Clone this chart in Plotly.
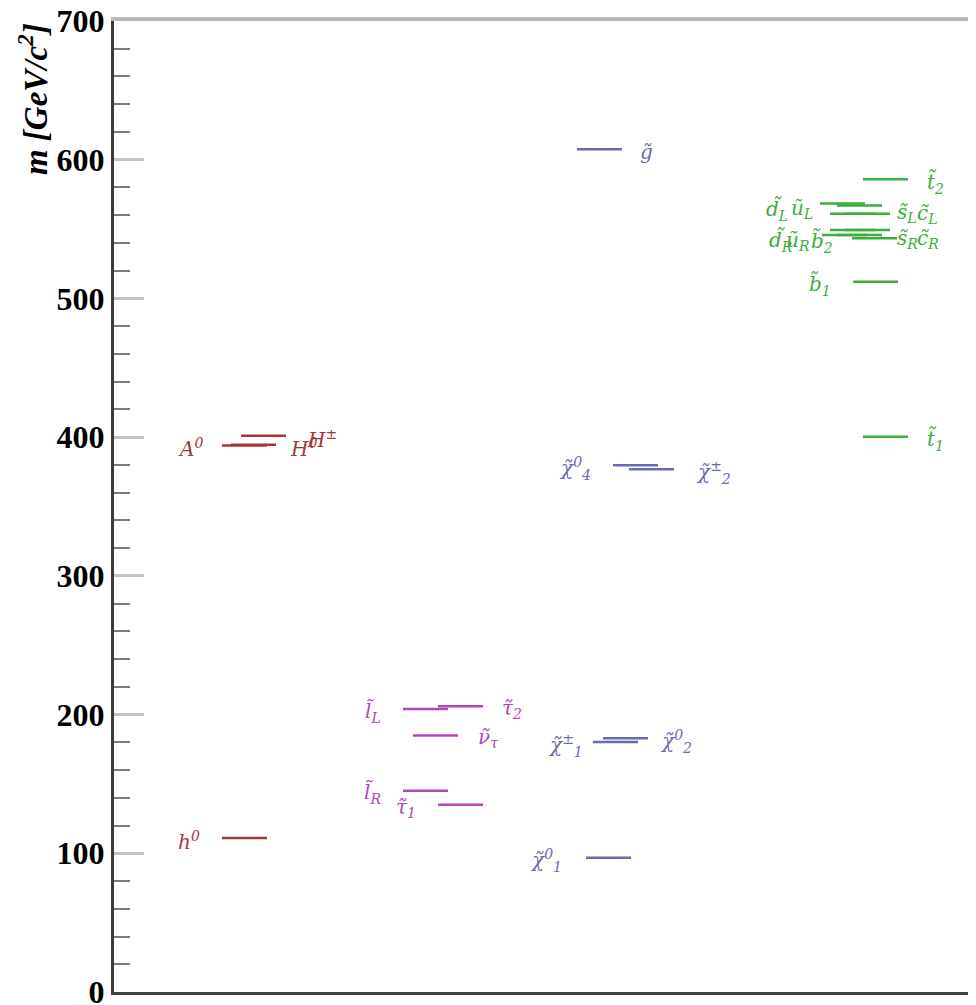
import plotly.graph_objects as go

# Mass spectrum, values (GeV/c^2)
higgs_labels = ["h<sup>0</sup>", "A<sup>0</sup>", "H<sup>0</sup>", "H<sup>±</sup>"]
higgs_mass = [111, 394, 394.5, 401]

slepton_labels = ["l̃<sub>L</sub>", "τ̃<sub>2</sub>", "ν̃<sub>τ</sub>", "l̃<sub>R</sub>", "τ̃<sub>1</sub>"]
slepton_mass = [204, 206, 185, 145, 135]

gaugino_labels = ["g̃", "χ̃<sup>0</sup><sub>1</sub>", "χ̃<sup>±</sup><sub>1</sub>", "χ̃<sup>0</sup><sub>2</sub>",
                  "χ̃<sup>0</sup><sub>4</sub>", "χ̃<sup>±</sup><sub>2</sub>"]
gaugino_mass = [607.6, 96.8, 180.2, 182.9, 379.7, 376.8]

squark_labels = ["t̃<sub>2</sub>", "d̃<sub>L</sub>", "s̃<sub>L</sub>", "ũ<sub>L</sub>", "c̃<sub>L</sub>",
                 "ũ<sub>R</sub>", "c̃<sub>R</sub>", "d̃<sub>R</sub>", "s̃<sub>R</sub>", "b̃<sub>2</sub>",
                 "b̃<sub>1</sub>", "t̃<sub>1</sub>"]
squark_mass = [586, 568.5, 567, 561, 561, 549.4, 549.4, 545.8, 545.8, 543.4, 512.1, 400.2]

# layout: horizontal slot of each level, label side, label gap and label shift (x axis is in screen pixels)
LINE_LEN = 45
groups = [
    dict(labels=higgs_labels, mass=higgs_mass, color="#a3383a",
         x0=[222, 222, 231, 241], side="LLRR", gap=[20, 17, 12, 19], dy=[0, 0, 0, 0]),
    dict(labels=slepton_labels, mass=slepton_mass, color="#b446b8",
         x0=[403, 438, 413, 403, 438], side="LRRLL", gap=[20, 17, 18, 20, 20], dy=[0] * 5),
    dict(labels=gaugino_labels, mass=gaugino_mass, color="#6a6ab2",
         x0=[577, 586, 593, 603, 613, 629], side="RLLRLR", gap=[16, 22, 8, 10, 20, 20], dy=[0] * 6),
    dict(labels=squark_labels, mass=squark_mass, color="#3aae3a",
         x0=[863, 820, 837, 830, 845, 830, 845, 822, 837, 852, 853, 863],
         side="RLRLRLRLRLLR", gap=[17, 30, 13, 15, 25, 18, 25, 27, 13, 17, 20, 17],
         dy=[0, -3, -5, 8, 3, -8, -6, -3, -1, 0, 0, 0]),
]

fig = go.Figure()
annotations = []
for g in groups:
    xs, ys = [], []
    for lab, m, x0, sd, gp, dy in zip(g["labels"], g["mass"], g["x0"], g["side"], g["gap"], g["dy"]):
        xs += [x0, x0 + LINE_LEN, None]
        ys += [m, m, None]
        if sd == "L":
            ax, anchor = x0 - gp, "right"
        else:
            ax, anchor = x0 + LINE_LEN + gp, "left"
        annotations.append(dict(x=ax, y=m, text=lab, showarrow=False, xanchor=anchor,
                                yanchor="middle", yshift=-3 + dy,
                                font=dict(family="DejaVu Serif", size=20, color=g["color"],
                                          style="italic")))
    fig.add_trace(go.Scatter(x=xs, y=ys, mode="lines", line=dict(color=g["color"], width=2.5),
                             hoverinfo="skip", showlegend=False))

# axis title sits at the top of the axis, ROOT style
annotations.append(dict(xref="paper", yref="paper", x=-0.093, y=1.0, xanchor="center", yanchor="top",
                        text="m [GeV/c<sup>2</sup>]", textangle=-90, showarrow=False,
                        font=dict(family="Liberation Serif", size=33, color="black", style="italic",
                                  weight="bold")))

fig.update_layout(
    width=976, height=1005,
    margin=dict(l=106, r=0, t=13, b=21, autoexpand=False),
    plot_bgcolor="white", paper_bgcolor="white",
    annotations=annotations,
    xaxis=dict(range=[114, 984], showgrid=False, zeroline=False, showticklabels=False, ticks="",
               showline=True, linecolor="#444", linewidth=3, automargin=False),
    xaxis2=dict(range=[114, 984], overlaying="x", side="top", showgrid=False, zeroline=False,
                showticklabels=False, ticks="", showline=True, linecolor="#b8b8b8", linewidth=4,
                automargin=False),
    yaxis=dict(range=[0, 700], dtick=100, ticks="inside", ticklen=30, tickwidth=3, tickcolor="#c4c4c4",
               showgrid=False, zeroline=False, showline=True, linecolor="#3a3a3a", linewidth=3,
               automargin=False, ticklabeloverflow="allow",
               tickfont=dict(family="Liberation Serif", size=32, color="black", weight="bold"),
               minor=dict(dtick=20, ticks="inside", ticklen=16, tickwidth=2, tickcolor="#7a7a7a")),
)
# invisible trace so the top frame axis is drawn
fig.add_trace(go.Scatter(x=[None], y=[None], xaxis="x2", showlegend=False, hoverinfo="skip"))

fig.write_html("out.html")
